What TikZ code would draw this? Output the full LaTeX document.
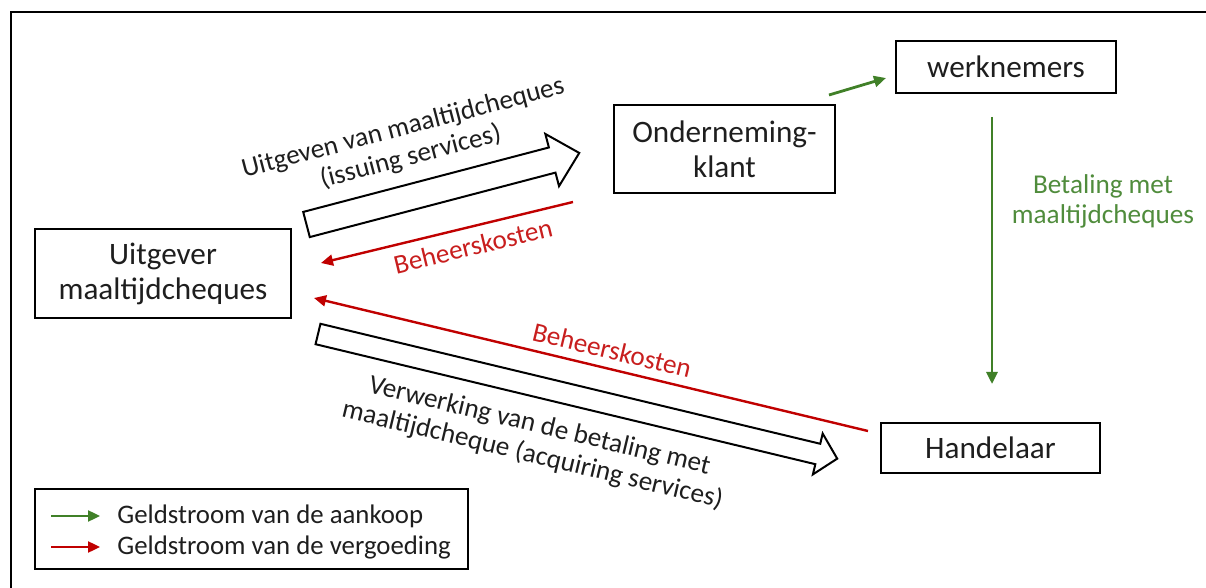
\documentclass[tikz,border=0pt]{standalone}
\usepackage{fontspec}
\setmainfont{Carlito}
\usetikzlibrary{arrows.meta,calc}
\definecolor{flowgreen}{RGB}{64,128,40}
\definecolor{labelgreen}{RGB}{80,140,60}
\definecolor{flowred}{RGB}{192,0,0}
\definecolor{labelred}{RGB}{200,30,30}
\definecolor{inkgray}{RGB}{30,30,30}
\tikzset{
  party/.style={draw=black,line width=0.8pt,align=center,inner sep=2pt,text=inkgray,
    font=\fontsize{15.6}{17.5}\selectfont},
  greenflow/.style={-{Triangle[length=6pt,width=5.5pt]},line width=1.4pt,draw=flowgreen},
  redflow/.style={-{Triangle[length=6pt,width=5.5pt]},line width=1.2pt,draw=flowred},
  blockarrow/.style={draw=black,line width=1pt,fill=white,line join=miter},
  flowtext/.style={font=\fontsize{13.6}{15}\selectfont,align=center,inner sep=0pt,text=inkgray},
  legtext/.style={font=\fontsize{13.4}{15}\selectfont,inner sep=0pt,text=inkgray}
}
\begin{document}
\begin{tikzpicture}[x=0.5pt,y=-0.5pt]
  \useasboundingbox (0,0) rectangle (1206,588);
  \draw[line width=1pt] (11,588) -- (11,12) -- (1206,12);
  % parties
  \node[party,minimum width=128pt,minimum height=44.5pt] (uitg) at (163,273.5) {Uitgever\\maaltijdcheques};
  \node[party,minimum width=110.5pt,minimum height=44pt] (ond) at (724.5,149) {Onderneming-\\klant};
  \node[party,minimum width=110pt,minimum height=26pt] (werk) at (1006,67) {werknemers};
  \node[party,minimum width=109.5pt,minimum height=25pt] (hand) at (990.5,448) {Handelaar};
  % services (block arrows)
  \coordinate (issue) at (306.5,224.5);
  \coordinate (acquire) at (318,334);
  \draw[blockarrow,shift={(issue)},rotate=14.7]
    (0,-13) -- (254,-13) -- (254,-27) -- (282,0) -- (254,27) -- (254,13) -- (0,13) -- cycle;
  \draw[blockarrow,shift={(acquire)},rotate=-13.5]
    (0,-10.5) -- (514,-10.5) -- (514,-21) -- (534,0) -- (514,21) -- (514,10.5) -- (0,10.5) -- cycle;
  \node[flowtext,rotate=14.7] (issuetxt) at (407,143) {Uitgeven van maaltijdcheques\\(issuing services)};
  \node[flowtext,rotate=-13.5] (acqtxt) at (536,441) {Verwerking van de betaling met\\maaltijdcheque (acquiring services)};
  % money flows
  \coordinate (fee1s) at (573,202); \coordinate (fee1e) at (321,263);
  \coordinate (fee2s) at (868,431); \coordinate (fee2e) at (314,298);
  \coordinate (buys) at (829,95); \coordinate (buye) at (886,78);
  \coordinate (pays) at (992,117); \coordinate (paye) at (992,384);
  \draw[redflow] (fee1s) -- (fee1e);
  \draw[redflow] (fee2s) -- (fee2e);
  \draw[greenflow] (buys) -- (buye);
  \draw[greenflow] (pays) -- (paye);
  \node[flowtext,text=labelred,rotate=13.6] (fee1txt) at (473,246) {Beheerskosten};
  \node[flowtext,text=labelred,rotate=-13.5] (fee2txt) at (612,350) {Beheerskosten};
  \node[flowtext,text=labelgreen] (paytxt) at (1103,201) {Betaling met\\maaltijdcheques};
  % legend
  \node[draw,line width=0.8pt,minimum width=216.5pt,minimum height=40pt] (legend) at (251.5,529) {};
  \node[legtext,anchor=west] (legbuy) at (117,516) {Geldstroom van de aankoop};
  \node[legtext,anchor=west] (legfee) at (117,547) {Geldstroom van de vergoeding};
  \draw[greenflow,line width=1.2pt] ($(legbuy.west)+(-66,0)$) -- ($(legbuy.west)+(-17,0)$);
  \draw[redflow] ($(legfee.west)+(-66,0)$) -- ($(legfee.west)+(-17,0)$);
\end{tikzpicture}
\end{document}
